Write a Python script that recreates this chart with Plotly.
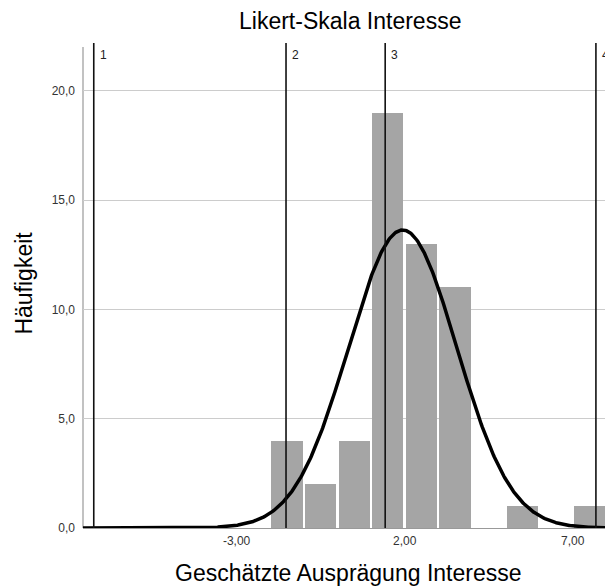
import numpy as np
import plotly.graph_objects as go

# Histogram of estimated interest scores (bin width 1)
bin_left_edges = [-2, -1, 0, 1, 2, 3, 4, 5, 6, 7]
counts = [4, 2, 4, 19, 13, 11, 0, 1, 0, 1]
bin_width = 1.0

# Normal curve overlay parameters
curve_mean = 1.94
curve_sd = 1.61

# Thresholds of the Likert categories
threshold_labels = ["1", "2", "3", "4"]
threshold_positions = [-7.25, -1.53, 1.42, 7.69]

# Axis ticks
x_tick_vals = [-3, 2, 7]
x_tick_text = ["-3,00", "2,00", "7,00"]
y_tick_vals = [0, 5, 10, 15, 20]
y_tick_text = ["0,0", "5,0", "10,0", "15,0", "20,0"]

x_range = [-7.57, 7.96]
y_range = [0, 22.18]
y_axis_top = 22.0

FONT = "Liberation Sans, Arial, sans-serif"

fig = go.Figure()

fig.add_trace(go.Bar(
    x=[e + bin_width / 2 for e in bin_left_edges],
    y=counts,
    width=bin_width * 0.93,
    marker=dict(color="#a5a5a5", line=dict(width=0)),
    hoverinfo="skip",
))

n_total = sum(counts)
xs = np.linspace(x_range[0], x_range[1], 600)
ys = n_total * bin_width / (curve_sd * np.sqrt(2 * np.pi)) * np.exp(-0.5 * ((xs - curve_mean) / curve_sd) ** 2)
fig.add_trace(go.Scatter(
    x=xs, y=ys, mode="lines",
    line=dict(color="black", width=3.5),
    hoverinfo="skip",
))

# left axis line
fig.add_shape(type="line", xref="paper", yref="y", x0=0, x1=0, y0=0, y1=y_axis_top,
              line=dict(color="#999999", width=1.2), layer="below")

for lab, pos in zip(threshold_labels, threshold_positions):
    fig.add_shape(type="line", xref="x", yref="paper", x0=pos, x1=pos, y0=0, y1=1,
                  line=dict(color="#111111", width=1.6), layer="above")
    fig.add_annotation(x=pos, y=1, xref="x", yref="paper", text=lab, showarrow=False,
                       xanchor="left", yanchor="top", xshift=4, yshift=-3,
                       font=dict(family=FONT, size=12, color="#222222"))

fig.add_annotation(text="Likert-Skala Interesse", xref="paper", yref="paper",
                   x=0.5115, y=1.0454, showarrow=False, xanchor="center", yanchor="middle",
                   font=dict(family=FONT, size=23, color="black"))
fig.add_annotation(text="Geschätzte Ausprägung Interesse", xref="paper", yref="paper",
                   x=0.5077, y=-0.0928, showarrow=False, xanchor="center", yanchor="middle",
                   font=dict(family=FONT, size=23, color="black"))
fig.add_annotation(text="Häufigkeit", xref="paper", yref="paper",
                   x=-0.113, y=0.504, showarrow=False, xanchor="center", yanchor="middle",
                   textangle=-90, font=dict(family=FONT, size=23, color="black"))

fig.update_layout(
    width=605, height=587,
    margin=dict(l=83, r=0, t=43, b=59),
    paper_bgcolor="white", plot_bgcolor="white",
    showlegend=False, bargap=0,
    font=dict(family=FONT, size=12, color="#333333"),
)
fig.update_xaxes(
    range=x_range, tickvals=x_tick_vals, ticktext=x_tick_text,
    showgrid=False, zeroline=False, showline=True, linecolor="#999999", linewidth=1.2,
    ticks="", ticklabelstandoff=1, tickfont=dict(family=FONT, size=12, color="#333333"),
)
fig.update_yaxes(
    range=y_range, tickvals=y_tick_vals, ticktext=y_tick_text,
    showgrid=True, gridcolor="#cccccc", gridwidth=1, zeroline=False, showline=False,
    ticks="", ticklabelstandoff=7, tickfont=dict(family=FONT, size=12, color="#333333"),
)

fig.write_html("out.html")
